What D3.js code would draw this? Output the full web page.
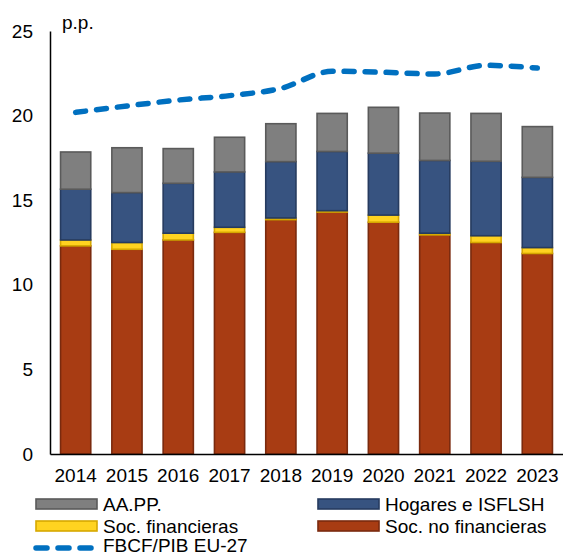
<!DOCTYPE html>
<html>
<head>
<meta charset="utf-8">
<script src="https://cdn.jsdelivr.net/npm/d3@7"></script>
<style>
  body { margin: 0; background: #fff; }
  text { font-family: "Liberation Sans", Arial, sans-serif; fill: #000; }
</style>
</head>
<body>
<div id="chart"></div>
<script>
// values in p.p.
var years = ["2014", "2015", "2016", "2017", "2018", "2019", "2020", "2021", "2022", "2023"];
var socNoFin = [12.3, 12.1, 12.65, 13.1, 13.85, 14.3, 13.7, 12.95, 12.5, 11.85];
var socFin = [0.35, 0.4, 0.4, 0.3, 0.1, 0.08, 0.42, 0.1, 0.4, 0.35];
var hogares = [3.0, 2.95, 2.95, 3.27, 3.33, 3.5, 3.66, 4.3, 4.4, 4.15];
var aapp = [2.2, 2.65, 2.05, 2.05, 2.24, 2.25, 2.71, 2.8, 2.83, 3.0];
var fbcfEU = [20.19, 20.57, 20.92, 21.18, 21.61, 22.62, 22.56, 22.46, 22.97, 22.81];
var yTicks = [0, 5, 10, 15, 20, 25];

var series = [
    { key: "socNoFin", label: "Soc. no financieras", fill: "#a83c13", stroke: "#7a2a0e" },
    { key: "socFin", label: "Soc. financieras", fill: "#ffd320", stroke: "#d6a800" },
    { key: "hogares", label: "Hogares e ISFLSH", fill: "#375380", stroke: "#263b5f" },
    { key: "aapp", label: "AA.PP.", fill: "#7f7f7f", stroke: "#5a5a5a" }
];

var width = 563, height = 556;
var fontSize = "19px";

var rows = years.map(function (y, i) {
    return { year: y, socNoFin: socNoFin[i], socFin: socFin[i], hogares: hogares[i], aapp: aapp[i] };
});

var svg = d3.select("#chart").append("svg")
    .attr("width", width)
    .attr("height", height);

var x = d3.scaleBand().domain(years).range([50, 563]).paddingInner(0.38).paddingOuter(0.19);
var y = d3.scaleLinear().domain([0, 25]).range([454, 31]);

var stacked = d3.stack().keys(series.map(function (s) { return s.key; }))(rows);

// bars
svg.selectAll(".layer")
    .data(stacked)
    .enter().append("g")
    .attr("class", "layer")
    .attr("fill", function (d, i) { return series[i].fill; })
    .attr("stroke", function (d, i) { return series[i].stroke; })
    .attr("stroke-width", 1.6)
    .selectAll("rect")
    .data(function (d) { return d; })
    .enter().append("rect")
    .attr("x", function (d) { return x(d.data.year) + 0.8; })
    .attr("width", x.bandwidth() - 1.6)
    .attr("y", function (d) { return y(d[1]); })
    .attr("height", function (d) { return Math.max(0, y(d[0]) - y(d[1])); });

// x axis
var gx = svg.append("g")
    .attr("transform", "translate(0," + y(0) + ")")
    .call(d3.axisBottom(x).tickSize(0).tickPadding(15));
gx.select(".domain").attr("stroke", "#000").attr("stroke-width", 1.5);
gx.selectAll("text").style("font-size", fontSize).style("font-family", "Liberation Sans, Arial, sans-serif");

// y axis
var gy = svg.append("g")
    .attr("transform", "translate(50,0)")
    .call(d3.axisLeft(y).tickValues(yTicks).tickSize(0).tickPadding(17));
gy.select(".domain").attr("stroke", "#000").attr("stroke-width", 1.5);
gy.selectAll("text").style("font-size", fontSize).style("font-family", "Liberation Sans, Arial, sans-serif");

svg.append("text")
    .attr("x", 62)
    .attr("y", 29)
    .style("font-size", fontSize)
    .text("p.p.");

// EU-27 line
var line = d3.line()
    .x(function (d, i) { return x(years[i]) + x.bandwidth() / 2; })
    .y(function (d) { return y(d); })
    .curve(d3.curveMonotoneX);

svg.append("path")
    .datum(fbcfEU)
    .attr("d", line)
    .attr("fill", "none")
    .attr("stroke", "#0070c0")
    .attr("stroke-width", 5.5)
    .attr("stroke-linecap", "round")
    .attr("stroke-dasharray", "10,11");

// legend
var legendItems = [
    { s: series[3], x: 35, y: 504 },
    { s: series[2], x: 317, y: 504 },
    { s: series[1], x: 35, y: 526 },
    { s: series[0], x: 317, y: 526 }
];

var lg = svg.append("g");
legendItems.forEach(function (it) {
    lg.append("rect")
        .attr("x", it.x + 1)
        .attr("y", it.y - 5)
        .attr("width", 61)
        .attr("height", 10)
        .attr("fill", it.s.fill)
        .attr("stroke", it.s.stroke)
        .attr("stroke-width", 1.6);
    lg.append("text")
        .attr("x", it.x + 68)
        .attr("y", it.y + 6.5)
        .style("font-size", fontSize)
        .text(it.s.label);
});

lg.append("line")
    .attr("x1", 36).attr("x2", 91)
    .attr("y1", 548).attr("y2", 548)
    .attr("stroke", "#0070c0")
    .attr("stroke-width", 5.5)
    .attr("stroke-linecap", "round")
    .attr("stroke-dasharray", "11,11");
lg.append("text")
    .attr("x", 103)
    .attr("y", 552)
    .style("font-size", fontSize)
    .text("FBCF/PIB EU-27");
</script>
</body>
</html>
